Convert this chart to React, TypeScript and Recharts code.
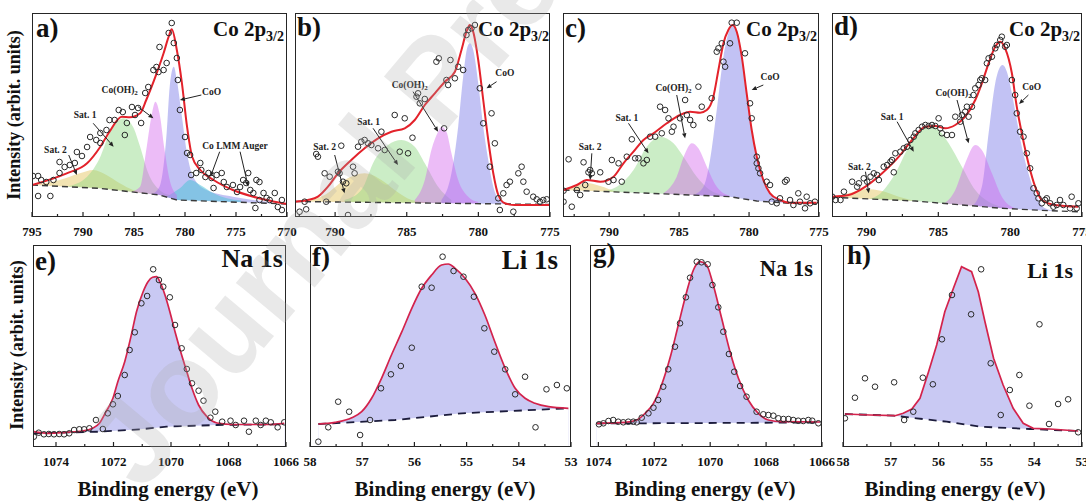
import React from "react";
import {
  Area,
  ComposedChart,
  Line,
  ReferenceDot,
  ReferenceLine,
  Scatter,
  XAxis,
  YAxis,
} from "recharts";

type Pt = [number, number]; // [binding energy (eV), intensity (arb. units)]

// ---------- a) Co 2p3/2 ----------
const aCounts: Pt[] = [
  [794.9, 41], [794.4, 41], [794.1, 37], [794.4, 21], [793.2, 21], [793.6, 35], [792.9, 37],
  [792.3, 44], [792.3, 55], [791.8, 50], [791.3, 52], [790.8, 54], [790.6, 65], [790.1, 61],
  [789.6, 70], [789.3, 80], [788.7, 77], [788.3, 74], [788.3, 84], [787.7, 87], [787.4, 97],
  [786.9, 97], [786.5, 107], [786.1, 105], [785.7, 94], [785.9, 82], [785.2, 110], [784.9, 102],
  [784.6, 109], [784.3, 94], [783.9, 124], [783.6, 130], [783.1, 147], [782.8, 150], [782.6, 145],
  [782.5, 170], [782.1, 147], [781.8, 154], [781.6, 184], [781.3, 194], [781.1, 174], [780.8, 159],
  [780.7, 137], [780.5, 107], [780.0, 80], [779.8, 64], [779.5, 62], [779.4, 42], [778.9, 44],
  [778.5, 54], [778.4, 47], [778.0, 40], [777.7, 44], [777.4, 39], [777.2, 29], [776.9, 42],
  [776.4, 44], [776.2, 35], [775.9, 30], [775.3, 32], [774.9, 25], [774.6, 30], [774.3, 37],
  [774.0, 34], [773.6, 27], [773.8, 44], [773.3, 24], [773.0, 37], [772.7, 35], [773.1, 9],
  [772.7, 17], [772.3, 24], [772.0, 19], [771.7, 17], [771.2, 24], [770.9, 10], [770.5, 17], [770.5, 7],
];
const aFit: Pt[] = [
  [795, 32], [791.6, 43.7], [789.6, 53.7], [788.3, 70.3], [787.4, 85.3], [786.2, 100.3],
  [785.4, 99.7], [784.4, 103.7], [783.8, 117], [782.9, 140.3], [782.1, 163.7], [781.6, 180.3],
  [781.3, 187.7], [780.8, 167], [780.3, 133.7], [779.8, 90.3], [779.3, 60.3], [778.5, 47],
  [777.2, 37], [775.3, 27], [773.3, 20.3], [772, 17], [770.4, 13.7], [770, 13],
];
const aBackground: Pt[] = [[795, 32], [788.4, 28.7], [782.5, 22], [780.8, 17], [770, 13]];
const aSat2: Pt[] = [[795, 32], [792.3, 37], [790.3, 43.7], [789, 47], [787.7, 42], [786.4, 33.7], [785.1, 27], [783.8, 23.7]];
const aSat1: Pt[] = [[791.6, 30.3], [789.6, 40.3], [788.3, 60.3], [787.4, 83.7], [786, 98.7], [785.1, 90.3], [784.4, 70.3], [783.6, 43.7], [782.5, 27], [781.5, 22]];
const aCoOH2: Pt[] = [[785.7, 23.7], [784.4, 30.3], [783.8, 67], [783.3, 100.3], [782.9, 115.3], [782.5, 103.7], [782, 67], [781.5, 37], [780.8, 22]];
const aCoO: Pt[] = [[783.4, 22], [782.5, 30.3], [781.8, 83.7], [781.5, 130.3], [781.1, 150.3], [780.8, 137], [780.3, 100.3], [779.8, 63.7], [779.2, 40.3], [777.9, 27], [775.3, 20.3], [773.3, 17], [771.5, 14.5]];
const aAuger: Pt[] = [[781.8, 20.3], [780.5, 28.7], [779.5, 37], [778.5, 32], [777.2, 23.7], [775.9, 18.7], [774.5, 16.5]];

// ---------- b) Co 2p3/2 ----------
const bCounts: Pt[] = [
  [789.57, 71.3], [791.32, 63], [791.2, 60.3], [790.73, 43.7], [790.38, 40.3], [789.8, 45.3],
  [789.69, 43.7], [789.45, 35.3], [789.22, 33.7], [788.75, 50.3], [788.64, 43.7], [792.13, 15.3],
  [790.62, 15.3], [792.48, 5.3], [792.02, 7.7], [789.1, 2], [788.4, 70.3], [788.17, 75.3],
  [787.94, 77], [787.7, 73.7], [787.47, 72], [787, 68.7], [786.77, 85.3], [786.54, 67],
  [785.84, 102], [785.49, 65.3], [785.14, 98.7], [784.91, 63.7], [784.6, 79.3], [784.32, 120.3],
  [784.21, 123.7], [784.09, 113.7], [783.74, 118], [782.93, 155.3], [782.76, 158.7], [782.39, 88.7],
  [782.23, 137], [782.11, 132], [781.95, 157], [781.64, 138.7], [781.41, 150.3], [781.06, 147],
  [780.83, 182], [780.71, 187], [780.48, 188.7], [780.24, 192], [779.9, 128.7], [779.66, 93.7],
  [779.08, 103.7], [778.85, 73.7], [779.2, 50.3], [778.61, 18.7], [778.26, 23.7], [778.03, 32],
  [777.8, 35.3], [778.5, 7], [777.56, 5.3], [777.21, 43.7], [776.98, 50.3], [776.86, 35.3],
  [776.63, 25.3], [776.17, 20.3], [775.93, 17.7], [775.7, 15.3], [775.47, 17], [775.23, 17.7],
];
const bFit: Pt[] = [
  [792.8, 15.3], [791.9, 17], [791.2, 20.3], [790.5, 30.3], [789.8, 43.7], [788.87, 57],
  [787.94, 68.7], [787, 78.7], [786.07, 85.3], [785.14, 88.7], [784.44, 97], [783.74, 112],
  [783.04, 123.7], [782.34, 135.3], [781.64, 145.3], [781.18, 167], [780.83, 185.3], [780.6, 192],
  [780.36, 185.3], [780.01, 157], [779.66, 117], [779.31, 77], [778.96, 43.7], [778.61, 22],
  [778.15, 13.7], [777.45, 12], [775, 12],
];
const bBackground: Pt[] = [[792.8, 15.5], [775, 12.5]];
const bSat2: Pt[] = [[792.13, 15.3], [790.73, 22], [789.34, 37], [787.94, 43.7], [786.77, 37], [785.84, 27], [784.67, 17], [783.74, 15]];
const bSat1: Pt[] = [[789.34, 17], [788.17, 27], [787.24, 57], [786.31, 72], [785.37, 77], [784.44, 70.3], [783.74, 53.7], [782.81, 30.3], [781.88, 17]];
const bCoOH2: Pt[] = [[784.44, 17], [783.74, 37], [783.28, 67], [782.81, 85.3], [782.58, 90.3], [782.23, 85.3], [781.88, 63.7], [781.41, 37], [780.71, 20.3], [780.01, 15]];
const bCoO: Pt[] = [[782.58, 17], [781.88, 43.7], [781.41, 90.3], [781.06, 140.3], [780.76, 170.3], [780.59, 173.7], [780.36, 167], [780.01, 133.7], [779.66, 90.3], [779.31, 57], [778.96, 30.3], [778.5, 17], [777.91, 13.5]];

// ---------- c) Co 2p3/2 ----------
const cCounts: Pt[] = [
  [793.26, 26.3], [793.26, 15.3], [792.67, 10.3], [792.9, 57.7], [791.83, 54.7], [791.36, 47],
  [791.48, 44.7], [791.24, 43.7], [790.64, 44.7], [791.71, 32], [792.31, 27], [792.07, 22],
  [790.05, 35.3], [789.69, 37], [789.1, 35.3], [789.81, 57], [789.33, 53.7], [788.74, 60.3],
  [788.38, 77.7], [788.14, 58.7], [787.9, 58.7], [787.55, 53.7], [787.31, 57], [787.07, 80.3],
  [786.71, 80.3], [786.24, 83.7], [786.36, 110.3], [786, 107], [785.76, 98.7], [785.4, 90.3],
  [785.52, 85.3], [784.93, 98.7], [784.57, 117], [784.45, 102], [784.21, 97], [783.98, 92],
  [783.62, 130.3], [783.38, 110.3], [782.79, 98.7], [782.67, 118.7], [782.31, 165.3], [782.19, 168.7],
  [781.95, 173.7], [781.83, 155.3], [781.71, 150.3], [781.36, 173.7], [781.24, 194.3], [780.88, 194.3],
  [780.29, 163.7], [779.93, 113.7], [779.81, 98.7], [779.45, 53.7], [779.33, 48.7], [779.21, 43.7],
  [779.45, 60.3], [778.74, 35.3], [778.5, 32], [778.38, 15.3], [778.02, 13.7], [777.79, 18.7],
  [777.43, 35.3], [777.31, 37], [777.07, 17], [776.83, 12], [776.48, 23.7], [776.36, 15.3],
  [776, 8.7], [775.64, 13.7], [775.29, 15.3], [775.88, 20.3],
];
const cFit: Pt[] = [
  [793.26, 27], [792.31, 32], [791.6, 37], [790.64, 35.3], [789.69, 40.3], [788.98, 53.7],
  [788.26, 65.3], [787.55, 77], [786.83, 83.7], [785.88, 93.7], [784.93, 102], [784.21, 105.3],
  [783.5, 104.3], [783.02, 107], [782.55, 120.3], [782.19, 147], [781.83, 173.7], [781.48, 187],
  [781.17, 192], [780.88, 185.3], [780.52, 160.3], [780.17, 123.7], [779.81, 87], [779.45, 60.3],
  [778.98, 37], [778.5, 23.7], [777.79, 17], [777.07, 14.3], [775.17, 14.3],
];
const cBackground: Pt[] = [[793.26, 27], [787.07, 23.7], [781.36, 20.3], [779.45, 16], [777.07, 13.7], [775.17, 13]];
const cSat2: Pt[] = [[793.26, 27], [792.31, 31.5], [791.6, 34], [790.64, 31], [789.45, 25.5], [788.26, 24]];
const cSat1: Pt[] = [[790.64, 25.3], [789.45, 30.3], [788.26, 47], [787.31, 70.3], [786.36, 80.3], [785.4, 73.7], [784.69, 60.3], [783.74, 40.3], [782.79, 27], [781.83, 22]];
const cCoOH2: Pt[] = [[786.12, 23.7], [785.17, 40.3], [784.57, 63.7], [784.1, 73.7], [783.62, 68.7], [783.02, 50.3], [782.31, 30.3], [781.36, 21]];
const cCoO: Pt[] = [[784, 22], [783.26, 30.3], [782.79, 57], [782.31, 107], [781.83, 160.3], [781.48, 183.7], [781.17, 191], [780.88, 183.7], [780.52, 158.7], [780.17, 122], [779.81, 85.3], [779.45, 60.3], [778.98, 37], [778.5, 23.7], [777.79, 17], [777.07, 13.7]];

// ---------- d) Co 2p3/2 ----------
const dCounts: Pt[] = [
  [792.38, 20.3], [792.15, 17], [791.81, 17], [791.57, 25.3], [791, 35.3], [790.65, 30.3],
  [790.53, 33.7], [790.19, 38.7], [789.95, 35.3], [789.72, 40.3], [789.49, 43.7], [789.26, 42],
  [789.14, 37], [788.8, 50.3], [788.56, 52], [788.33, 55.3], [788.22, 57], [788.1, 44.7],
  [787.99, 63.7], [787.64, 65.3], [787.41, 68.7], [787.18, 70.3], [786.94, 77], [786.71, 80.3],
  [786.6, 83.7], [786.37, 87], [786.13, 90.3], [785.9, 92], [785.67, 91], [785.44, 92],
  [785.21, 91], [784.98, 98.7], [784.86, 88.7], [784.75, 83.7], [784.4, 82], [784.05, 82],
  [783.82, 100.3], [783.47, 95.3], [783.36, 102], [783.13, 105.3], [783.01, 110.3], [782.89, 100.3],
  [782.66, 110.3], [782.55, 122], [782.43, 128.7], [782.2, 132], [782.08, 137], [781.97, 138.7],
  [781.74, 137], [781.62, 153.7], [781.5, 158.7], [781.27, 160.3], [781.04, 168.7], [780.93, 172],
  [780.69, 177], [780.58, 180.3], [780.35, 170.3], [780.23, 172], [779.88, 137], [779.65, 122],
  [779.54, 103.7], [779.31, 85.3], [779.07, 80.3], [778.84, 63.7], [778.61, 48.7], [778.38, 28.7],
  [778.15, 23.7], [778.03, 18.7], [777.8, 13.7], [777.57, 17], [777.45, 18.7], [777.22, 13.7],
  [776.99, 10.3], [776.76, 12], [776.53, 17], [776.3, 12], [775.83, 8.7], [775.72, 20.3],
  [775.37, 8.7], [775.25, 13.7],
];
const dFit: Pt[] = [
  [792.38, 20.3], [791.23, 22], [790.07, 30.3], [788.91, 43.7], [787.75, 60.3], [786.83, 77],
  [785.9, 90.3], [785.21, 91], [784.51, 88.7], [783.82, 92], [783.13, 100.3], [782.43, 117],
  [781.97, 133.7], [781.5, 153.7], [781.04, 170.3], [780.69, 175.3], [780.35, 168.7], [779.88, 143.7],
  [779.54, 110.3], [779.19, 83.7], [778.73, 53.7], [778.26, 30.3], [777.8, 17], [776.88, 12], [775.25, 10.3],
];
const dBackground: Pt[] = [[792.38, 19.7], [786.6, 16], [780.6, 8.7], [777.3, 6.3], [775.25, 5.3]];
const dSat2: Pt[] = [[792.38, 19.7], [791.23, 23.7], [790.07, 28], [788.91, 26], [787.75, 20.3], [786.6, 16]];
const dSat1: Pt[] = [[790.07, 17], [788.91, 25.3], [787.99, 43.7], [787.06, 70.3], [786.14, 87], [785.56, 91], [784.98, 87], [784.28, 73.7], [783.36, 50.3], [782.43, 27], [781.5, 15.3], [780.58, 10.3]];
const dCoOH2: Pt[] = [[784.75, 12], [783.82, 27], [783.13, 53.7], [782.43, 72], [781.97, 67], [781.27, 43.7], [780.58, 20.3], [779.65, 8.7]];
const dCoO: Pt[] = [[782.66, 10.3], [781.97, 30.3], [781.5, 83.7], [781.04, 133.7], [780.69, 150.3], [780.53, 152], [780.23, 145.3], [779.88, 123.7], [779.54, 97], [779.19, 70.3], [778.73, 43.7], [778.26, 23.7], [777.57, 8.7], [776.88, 6.3]];

// ---------- e) Na 1s ----------
const eCounts: Pt[] = [
  [1074.77, 10.3], [1074.6, 14.3], [1074.42, 12.7], [1074.25, 13], [1074.07, 12.7], [1073.89, 13],
  [1073.72, 12.7], [1073.54, 13.7], [1073.37, 17], [1073.19, 17.7], [1073.02, 17.7], [1072.84, 18.7],
  [1072.61, 27], [1072.37, 18], [1072.2, 33.7], [1072.02, 42.7], [1071.85, 51], [1071.61, 72],
  [1071.44, 97], [1071.26, 114.7], [1071.03, 143.7], [1070.83, 151], [1070.62, 177.7], [1070.42, 167],
  [1070.27, 160.3], [1070.04, 149.7], [1069.86, 122], [1069.63, 98.7], [1069.45, 78], [1069.27, 63.7],
  [1069.04, 56.3], [1068.87, 46.3], [1068.63, 29.3], [1068.46, 35.3], [1068.22, 25.3], [1067.93, 26.3],
  [1067.75, 22], [1067.46, 26.3], [1067.29, 15.3], [1067.05, 26.3], [1066.88, 22], [1066.7, 26.3],
  [1066.53, 24.7], [1066.29, 19.7], [1066.06, 24.7],
];
const eFit: Pt[] = [
  [1074.77, 15.3], [1074.25, 13.7], [1073.66, 14.7], [1073.08, 16], [1072.73, 18.7], [1072.49, 23.7],
  [1072.26, 35.3], [1072.02, 48.7], [1071.85, 65.3], [1071.61, 85.3], [1071.38, 112], [1071.2, 135.3],
  [1070.97, 155.3], [1070.8, 165.3], [1070.64, 169.7], [1070.5, 170.3], [1070.39, 165.3], [1070.21, 152],
  [1070.04, 135.3], [1069.86, 115.3], [1069.63, 92], [1069.45, 75.3], [1069.27, 58.7], [1069.04, 42],
  [1068.75, 30.3], [1068.4, 24], [1067.81, 22.5], [1067.11, 22.5], [1066.64, 22.5], [1066.06, 23.7],
];
const eBackground: Pt[] = [[1074.77, 13.7], [1072.49, 15.3], [1071.08, 17.7], [1070.15, 20.3], [1068.4, 22], [1066.06, 22.7]];

// ---------- f) Li 1s ----------
const fCounts: Pt[] = [
  [57.84, 5.3], [57.65, 19.7], [57.46, 45.3], [57.25, 35.3], [57.04, 12], [56.85, 27], [56.64, 58.7],
  [56.45, 72.7], [56.26, 81], [56.05, 99.3], [55.86, 160.3], [55.67, 159.3], [55.46, 190.3],
  [55.25, 176], [55.06, 170.3], [54.86, 150.3], [54.66, 118.7], [54.47, 95.3], [54.26, 77.7],
  [54.07, 52.7], [53.88, 70.3], [53.68, 19.7], [53.47, 57.7], [53.27, 62], [53.08, 58.7],
];
const fFit: Pt[] = [
  [57.84, 23], [57.52, 24.7], [57.2, 29.3], [57.01, 35.3], [56.82, 48.7], [56.63, 68.7], [56.44, 92],
  [56.24, 115.3], [56.05, 138.7], [55.86, 158.7], [55.67, 172], [55.48, 182], [55.35, 183],
  [55.22, 178.7], [55.03, 168.7], [54.84, 153.7], [54.65, 132], [54.46, 105.3], [54.26, 78.7],
  [54.07, 58.7], [53.88, 48.7], [53.69, 43.7], [53.43, 40.3], [53.05, 38.7],
];
const fBackground: Pt[] = [[57.84, 23], [56.37, 27], [55.09, 33.7], [53.05, 38.7]];

// ---------- g) Na 1s ----------
const gCounts: Pt[] = [
  [1073.98, 22.7], [1073.82, 23.7], [1073.64, 26], [1073.47, 27], [1073.29, 25.3], [1073.11, 24.7],
  [1072.93, 25.3], [1072.75, 25.3], [1072.63, 24.7], [1072.45, 29.3], [1072.21, 33.7], [1072.03, 39.3],
  [1071.86, 47], [1071.68, 60.3], [1071.5, 77.7], [1071.26, 100.3], [1071.08, 123.7], [1070.87, 149.7],
  [1070.72, 169.3], [1070.48, 185.3], [1070.31, 184.7], [1070.09, 182.7], [1069.92, 162], [1069.71, 139.7],
  [1069.53, 115.3], [1069.33, 93], [1069.14, 75.3], [1068.93, 61], [1068.7, 50.3], [1068.34, 35.3],
  [1068.1, 32.7], [1067.92, 32], [1067.74, 31.3], [1067.56, 28.7], [1067.38, 28], [1067.2, 28],
  [1067.03, 27], [1066.85, 26.3], [1066.67, 26], [1066.49, 27], [1066.35, 26.3], [1066.13, 23.7],
];
const gFit: Pt[] = [
  [1074.06, 23.7], [1073.05, 24.7], [1072.63, 27], [1072.33, 33.7], [1072.03, 43.7], [1071.74, 62],
  [1071.44, 88.7], [1071.14, 122], [1070.84, 155.3], [1070.6, 177], [1070.36, 185.3], [1070.13, 182],
  [1069.89, 162], [1069.59, 128.7], [1069.29, 95.3], [1068.99, 68.7], [1068.64, 47], [1068.28, 33.7],
  [1067.92, 27], [1067.44, 25.3], [1066.07, 25],
];
const gBackground: Pt[] = [[1074.06, 23.5], [1066.07, 24.5]];

// ---------- h) Li 1s ----------
const hCounts: Pt[] = [
  [57.96, 28.7], [57.75, 49.3], [57.54, 68.7], [57.33, 60.3], [56.93, 64.7], [56.72, 27], [56.53, 35.3],
  [56.33, 69.3], [56.12, 62.7], [55.93, 107.7], [55.72, 152], [55.32, 132.7], [55.11, 177.7],
  [54.91, 83.7], [54.7, 32], [54.51, 57], [54.31, 72], [54.1, 41.3], [53.89, 122.7], [53.69, 23],
  [53.5, 43], [53.29, 47.7], [53.08, 14.7],
];
const hFit: Pt[] = [
  [57.96, 33], [57.44, 32], [56.91, 31.3], [56.74, 33.7], [56.56, 38], [56.39, 48.7], [56.21, 75.3],
  [56.04, 102], [55.87, 135.3], [55.69, 158.7], [55.52, 180.3], [55.31, 175.3], [55.17, 155.3],
  [55.03, 125.3], [54.85, 88.7], [54.65, 62], [54.44, 38.7], [54.23, 23.7], [54.02, 18.7], [53.67, 18], [53.08, 16],
];
const hBackground: Pt[] = [[57.96, 33], [56.94, 31.3], [56.46, 28.7], [55.83, 25.3], [55.13, 20.3], [54.09, 18], [53.08, 16]];

// ---------- axis ticks ----------
const aTicks = [795, 790, 785, 780, 775, 770];
const coTicks = [790, 785, 780, 775];
const naTicks = [1074, 1072, 1070, 1068, 1066];
const liTicks = [58, 57, 56, 55, 54, 53];

const SERIF = '"Liberation Serif", "Times New Roman", serif';
const SAT2 = "rgba(226,192,84,0.45)";
const SAT1 = "rgba(140,214,128,0.45)";
const COOH = "rgba(210,96,236,0.42)";
const COO = "rgba(134,134,234,0.5)";
const AUGER = "rgba(70,196,214,0.5)";
const LAVENDER = "#c9c9f3";

type Layer = { pts: Pt[]; fill: string };
type Note = { e: number; v: number; text: string; sub?: string };
type Pointer = [number, number, number, number];

interface PanelSpec {
  letter: string;
  title: string;
  sub?: string;
  titleSize: number;
  left: number;
  top: number;
  width: number;
  height: number;
  domain: [number, number];
  majors: number[];
  step: number;
  layers: Layer[];
  background: Pt[];
  fit: Pt[];
  counts: Pt[];
  fitColor: string;
  curve: "monotone" | "linear";
  notes?: Note[];
  pointers?: Pointer[];
  letterAt: [number, number];
  titleAt: [number, number]; // right edge, top
}

const rows = (pts: Pt[]) => pts.map(([e, v]) => ({ e, v }));

const withMinor = (majors: number[], step: number, [lo, hi]: [number, number]) => {
  const all = new Set<number>(majors);
  majors.forEach((m) => {
    [m - step / 2, m + step / 2].forEach((t) => {
      if (t >= lo - 1e-9 && t <= hi + 1e-9) all.add(+t.toFixed(3));
    });
  });
  return Array.from(all).sort((a, b) => a - b);
};

const Ring = (p: any) => (
  <circle cx={p.cx} cy={p.cy} r={2.8} fill="none" stroke="#2a2a2a" strokeWidth={1} />
);

const ArrowShape = (p: any) => {
  const { x1, y1, x2, y2 } = p;
  const ang = Math.atan2(y2 - y1, x2 - x1);
  const bx = x2 - 5 * Math.cos(ang);
  const by = y2 - 5 * Math.sin(ang);
  const px = -Math.sin(ang) * 2.2;
  const py = Math.cos(ang) * 2.2;
  return (
    <g>
      <line x1={x1} y1={y1} x2={bx} y2={by} stroke="#222" strokeWidth={1} />
      <polygon points={`${x2},${y2} ${bx + px},${by + py} ${bx - px},${by - py}`} fill="#222" />
    </g>
  );
};

const noteShape = (n: Note) => (p: any) => (
  <text
    x={p.cx}
    y={p.cy}
    textAnchor="middle"
    dominantBaseline="central"
    fontFamily={SERIF}
    fontWeight="bold"
    fontSize={9.5}
    fill="#222"
  >
    {n.text}
    {n.sub && (
      <tspan dy={3} fontSize={7}>
        {n.sub}
      </tspan>
    )}
  </text>
);

const makeTick = (majors: number[]) => (props: any) => {
  const { x, y, payload } = props;
  const major = majors.some((m) => Math.abs(m - payload.value) < 1e-6);
  return (
    <g>
      <line x1={x} x2={x} y1={y} y2={y - (major ? 5 : 3)} stroke="#222" strokeWidth={1.2} />
      {major && (
        <text
          x={x}
          y={y + 19}
          textAnchor="middle"
          fontFamily={SERIF}
          fontWeight="bold"
          fontSize={13}
          fill="#111"
        >
          {payload.value}
        </text>
      )}
    </g>
  );
};

const panels: PanelSpec[] = [
  {
    letter: "a)", title: "Co 2p", sub: "3/2", titleSize: 21,
    left: 32, top: 13, width: 255, height: 204, domain: [770, 795], majors: aTicks, step: 5,
    layers: [
      { pts: aSat2, fill: SAT2 }, { pts: aSat1, fill: SAT1 }, { pts: aCoO, fill: COO },
      { pts: aAuger, fill: AUGER }, { pts: aCoOH2, fill: COOH },
    ],
    background: aBackground, fit: aFit, counts: aCounts, fitColor: "#e3222b", curve: "monotone",
    notes: [
      { e: 786.4, v: 127, text: "Co(OH)", sub: "2" }, { e: 777.4, v: 125.3, text: "CoO" },
      { e: 789.8, v: 102, text: "Sat. 1" }, { e: 792.7, v: 67, text: "Sat. 2" },
      { e: 775.1, v: 71.3, text: "Co LMM Auger" },
    ],
    pointers: [
      [784.6, 110.3, 783.1, 98.7], [778.4, 122, 780.5, 117], [789.0, 93.7, 787.0, 70.3],
      [791.4, 62, 790.6, 42], [776.6, 65.3, 777.5, 40.3], [774.6, 65.3, 773.8, 30.3],
    ],
    letterAt: [36, 15], titleAt: [284, 19],
  },
  {
    letter: "b)", title: "Co 2p", sub: "3/2", titleSize: 21,
    left: 295, top: 13, width: 255, height: 204, domain: [775, 792.8], majors: coTicks, step: 5,
    layers: [
      { pts: bSat2, fill: SAT2 }, { pts: bSat1, fill: SAT1 }, { pts: bCoO, fill: COO }, { pts: bCoOH2, fill: COOH },
    ],
    background: bBackground, fit: bFit, counts: bCounts, fitColor: "#e3222b", curve: "monotone",
    notes: [
      { e: 790.73, v: 70.3, text: "Sat. 2" }, { e: 787.66, v: 95.3, text: "Sat. 1" },
      { e: 784.79, v: 132, text: "Co(OH)", sub: "2" }, { e: 778.15, v: 144.3, text: "CoO" },
    ],
    pointers: [
      [790.03, 62, 789.34, 23.7], [787.35, 88.7, 785.61, 52], [784.56, 125.3, 782.81, 85.3], [778.73, 135.3, 779.43, 128.7],
    ],
    letterAt: [297, 14], titleAt: [549, 19],
  },
  {
    letter: "c)", title: "Co 2p", sub: "3/2", titleSize: 21,
    left: 563, top: 13, width: 256, height: 204, domain: [775, 793.3], majors: coTicks, step: 5,
    layers: [
      { pts: cSat2, fill: SAT2 }, { pts: cSat1, fill: SAT1 }, { pts: cCoO, fill: COO }, { pts: cCoOH2, fill: COOH },
    ],
    background: cBackground, fit: cFit, counts: cCounts, fitColor: "#e3222b", curve: "monotone",
    notes: [
      { e: 791.36, v: 70.3, text: "Sat. 2" }, { e: 788.74, v: 98.7, text: "Sat. 1" },
      { e: 785.4, v: 128.7, text: "Co(OH)", sub: "2" }, { e: 778.5, v: 140.3, text: "CoO" },
    ],
    pointers: [
      [791.24, 63.7, 791.36, 37], [788.62, 93.7, 787.19, 63.7], [785.17, 122, 784.57, 78.7], [778.98, 132, 779.81, 127],
    ],
    letterAt: [565, 15], titleAt: [817, 19],
  },
  {
    letter: "d)", title: "Co 2p", sub: "3/2", titleSize: 21,
    left: 832, top: 13, width: 250, height: 204, domain: [775, 792.4], majors: coTicks, step: 5,
    layers: [
      { pts: dSat2, fill: SAT2 }, { pts: dSat1, fill: SAT1 }, { pts: dCoO, fill: COO }, { pts: dCoOH2, fill: COOH },
    ],
    background: dBackground, fit: dFit, counts: dCounts, fitColor: "#e3222b", curve: "monotone",
    notes: [
      { e: 790.49, v: 50.3, text: "Sat. 2" }, { e: 788.22, v: 100.3, text: "Sat. 1" },
      { e: 783.94, v: 123.7, text: "Co(OH)", sub: "2" }, { e: 778.5, v: 129.7, text: "CoO" },
    ],
    pointers: [
      [790.07, 45.3, 789.84, 23.7], [787.87, 95.3, 786.71, 65.3], [783.7, 117, 782.89, 73.7], [778.73, 122, 779.38, 113],
    ],
    letterAt: [834, 13], titleAt: [1080, 19],
  },
  {
    letter: "e)", title: "Na 1s", titleSize: 26,
    left: 33, top: 245, width: 253, height: 202, domain: [1066, 1074.8], majors: naTicks, step: 2,
    layers: [{ pts: eFit, fill: LAVENDER }],
    background: eBackground, fit: eFit, counts: eCounts, fitColor: "#d3234c", curve: "monotone",
    letterAt: [35, 248], titleAt: [283, 246],
  },
  {
    letter: "f)", title: "Li 1s", titleSize: 27,
    left: 310, top: 245, width: 261, height: 202, domain: [53, 58], majors: liTicks, step: 1,
    layers: [{ pts: fFit, fill: LAVENDER }],
    background: fBackground, fit: fFit, counts: fCounts, fitColor: "#d3234c", curve: "monotone",
    letterAt: [312, 244], titleAt: [558, 247],
  },
  {
    letter: "g)", title: "Na 1s", titleSize: 22.5,
    left: 590, top: 245, width: 232, height: 202, domain: [1066, 1074.3], majors: naTicks, step: 2,
    layers: [{ pts: gFit, fill: LAVENDER }],
    background: gBackground, fit: gFit, counts: gCounts, fitColor: "#d3234c", curve: "monotone",
    letterAt: [593, 240], titleAt: [813, 258],
  },
  {
    letter: "h)", title: "Li 1s", titleSize: 22,
    left: 843, top: 245, width: 239, height: 202, domain: [53, 58], majors: liTicks, step: 1,
    layers: [{ pts: hFit, fill: LAVENDER }],
    background: hBackground, fit: hFit, counts: hCounts, fitColor: "#d3234c", curve: "linear",
    letterAt: [847, 242], titleAt: [1073, 260],
  },
];

const AXIS_H = 30;
const M = { top: 4, right: 20, bottom: 0, left: 20 };

function Panel({ p }: { p: PanelSpec }) {
  const ticks = withMinor(p.majors, p.step, p.domain);
  const topRow = p.top < 100;
  return (
    <>
      <div style={{ position: "absolute", left: p.left - M.left, top: p.top - M.top }}>
        <ComposedChart
          width={p.width + M.left + M.right}
          height={p.height + M.top + AXIS_H}
          margin={M}
        >
          <XAxis
            type="number"
            dataKey="e"
            domain={p.domain}
            reversed
            allowDataOverflow
            ticks={ticks}
            interval={0}
            tick={makeTick(p.majors)}
            tickLine={false}
            axisLine={false}
            tickSize={0}
            tickMargin={0}
            height={AXIS_H}
          />
          <YAxis hide type="number" dataKey="v" domain={[0, p.height]} allowDataOverflow />
          {p.layers.map((l, i) => (
            <Area
              key={`layer-${i}`}
              data={rows(l.pts)}
              dataKey="v"
              type={p.curve}
              fill={l.fill}
              fillOpacity={1}
              stroke="none"
              isAnimationActive={false}
            />
          ))}
          {/* white under the background line so peaks sit on it */}
          <Area
            data={rows(p.background)}
            dataKey="v"
            type="linear"
            fill="#ffffff"
            fillOpacity={1}
            stroke="none"
            isAnimationActive={false}
          />
          <Line
            data={rows(p.background)}
            dataKey="v"
            type="linear"
            stroke={topRow ? "#3a3a3a" : "#1c1c3c"}
            strokeWidth={topRow ? 1.4 : 1.8}
            strokeDasharray={topRow ? "6 4" : "8 6"}
            dot={false}
            activeDot={false}
            isAnimationActive={false}
          />
          <Line
            data={rows(p.fit)}
            dataKey="v"
            type={p.curve}
            stroke={p.fitColor}
            strokeWidth={topRow ? 2 : 1.7}
            dot={false}
            activeDot={false}
            isAnimationActive={false}
          />
          <Scatter data={rows(p.counts)} shape={Ring} isAnimationActive={false} />
          {(p.pointers ?? []).map(([e1, v1, e2, v2], i) => (
            <ReferenceLine
              key={`ptr-${i}`}
              segment={[{ x: e1, y: v1 }, { x: e2, y: v2 }]}
              ifOverflow="visible"
              shape={ArrowShape}
            />
          ))}
          {(p.notes ?? []).map((n, i) => (
            <ReferenceDot key={`note-${i}`} x={n.e} y={n.v} r={0} ifOverflow="visible" shape={noteShape(n)} />
          ))}
        </ComposedChart>
      </div>
      <div
        style={{
          position: "absolute",
          left: p.left,
          top: p.top,
          width: p.width,
          height: p.height,
          border: "1.5px solid #262626",
          boxSizing: "border-box",
          pointerEvents: "none",
        }}
      />
      <div
        style={{
          position: "absolute",
          left: p.letterAt[0],
          top: p.letterAt[1],
          font: `bold 27px ${SERIF}`,
          lineHeight: 1,
          color: "#111",
        }}
      >
        {p.letter}
      </div>
      <div
        style={{
          position: "absolute",
          right: 1086 - p.titleAt[0],
          top: p.titleAt[1],
          font: `bold ${p.titleSize}px ${SERIF}`,
          lineHeight: 1,
          whiteSpace: "nowrap",
          color: "#111",
        }}
      >
        {p.title}
        {p.sub && <span style={{ fontSize: 14, position: "relative", top: 5 }}>{p.sub}</span>}
      </div>
    </>
  );
}

const rotated = (cx: number, cy: number): React.CSSProperties => ({
  position: "absolute",
  left: cx,
  top: cy,
  transform: "translate(-50%, -50%) rotate(-90deg)",
  font: `bold 18px ${SERIF}`,
  whiteSpace: "nowrap",
  color: "#111",
});

const xTitle = (cx: number): React.CSSProperties => ({
  position: "absolute",
  left: cx,
  top: 489,
  transform: "translate(-50%, -50%)",
  font: `bold 21px ${SERIF}`,
  whiteSpace: "nowrap",
  color: "#111",
});

export default function App() {
  return (
    <div
      style={{
        position: "absolute",
        left: 0,
        top: 0,
        width: 1086,
        height: 502,
        background: "#fff",
        overflow: "hidden",
      }}
    >
      {panels.map((p) => (
        <Panel key={p.letter} p={p} />
      ))}
      <div style={rotated(14, 115)}>Intensity (arbit. units)</div>
      <div style={rotated(17, 345)}>Intensity (arbit. units)</div>
      <div style={xTitle(168)}>Binding energy (eV)</div>
      <div style={xTitle(445)}>Binding energy (eV)</div>
      <div style={xTitle(705)}>Binding energy (eV)</div>
      <div style={xTitle(955)}>Binding energy (eV)</div>
      <div
        style={{
          position: "absolute",
          left: 150,
          top: 500,
          transformOrigin: "0 0",
          transform: "rotate(-50deg) translateY(-88%)",
          font: `bold 120px "Liberation Sans", Arial, sans-serif`,
          color: "rgba(170,170,170,0.26)",
          whiteSpace: "nowrap",
          pointerEvents: "none",
        }}
      >
        Journal Pre-proof
      </div>
    </div>
  );
}
